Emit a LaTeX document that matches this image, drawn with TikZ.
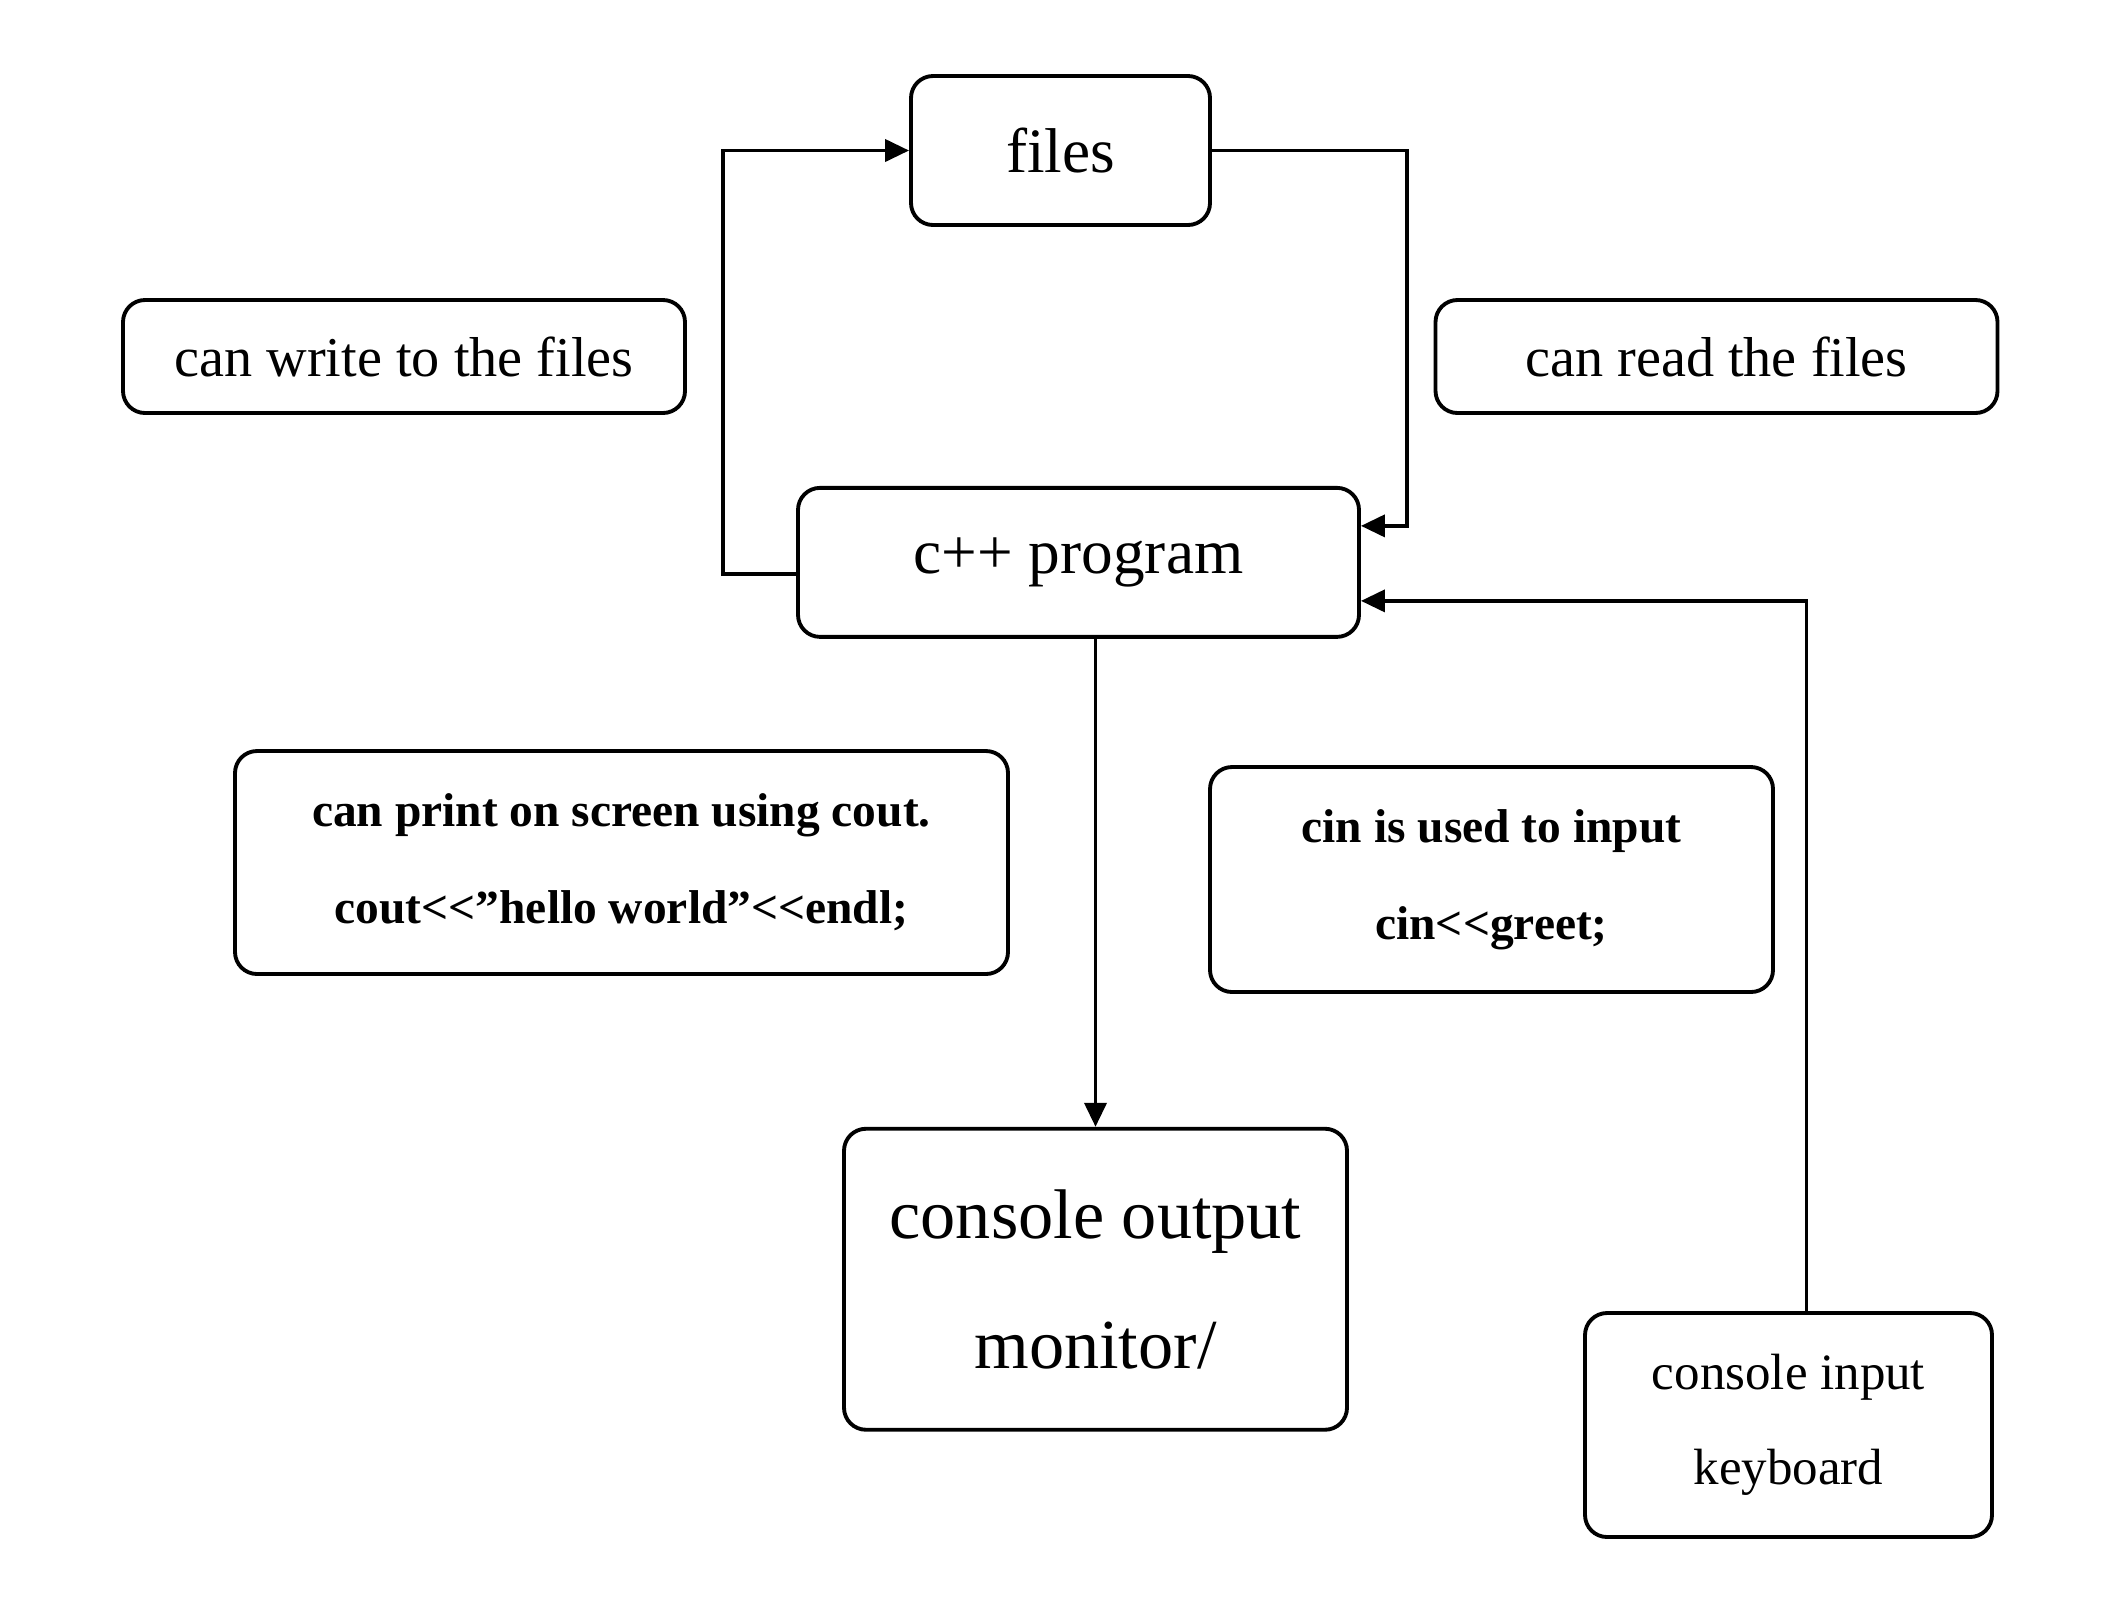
\documentclass[tikz,border=0pt]{standalone}
\usepackage{fontspec}
\setmainfont{Liberation Serif}
\usetikzlibrary{positioning,arrows.meta}
\tikzstyle{block} = [rectangle, rounded corners=0.22cm, draw=black, line width=1.1pt, text centered, align=center, inner sep=0pt]
\tikzstyle{note} = [block, minimum width=5.62cm, minimum height=1.13cm, font=\fontsize{16}{20}\selectfont]
\tikzstyle{code} = [block, font=\bfseries\fontsize{13.5}{27.5}\selectfont]
\tikzstyle{arrow} = [draw, line width=1.1pt, -{Triangle[length=0.24cm,width=0.22cm]}]

\begin{document}
\begin{tikzpicture}
    \useasboundingbox (0,0) rectangle (21.22,-16.13);
    \tikzstyle{every node}=[font=\fontsize{18}{22}\selectfont]
    \node (files) [block, minimum width=2.99cm, minimum height=1.49cm] at (10.605,-1.505) {files};
    \node (cpp) [block, below=2.59cm of files, xshift=0.18cm, minimum width=5.61cm, minimum height=1.49cm] {c++ program};
    \node (out) [block, below=4.88cm of cpp, xshift=0.17cm, minimum width=5.03cm, minimum height=3.01cm, font=\fontsize{20}{37}\selectfont] {console output\\monitor/};

    \node (write) [note] at (4.04,-3.565) {can write to the files};
    \node (read) [note] at (17.165,-3.565) {can read the files};
    \node (cout) [code, minimum width=7.73cm, minimum height=2.23cm] at (6.215,-8.625) {can print on screen using cout.\\cout<\kern0pt<”hello world”<\kern0pt<endl;};
    \node (cin) [code, minimum width=5.63cm, minimum height=2.25cm] at (14.915,-8.795) {cin is used to input\\cin<\kern0pt<greet;};
    \node (in) [block, minimum width=4.07cm, minimum height=2.24cm, font=\fontsize{14.5}{27}\selectfont] at (17.885,-14.25) {console input\\keyboard};

    \draw [arrow] ([yshift=-0.12cm]cpp.west) -- ++(-0.73,0) |- (files.west);
    \draw [arrow] (files.east) -- ++(1.95,0) |- ([yshift=0.365cm]cpp.east);
    \draw [arrow] (cpp.south -| out.north) -- (out.north);
    \draw [arrow] ([xshift=0.18cm]in.north) |- ([yshift=-0.385cm]cpp.east);

\end{tikzpicture}
\end{document}
